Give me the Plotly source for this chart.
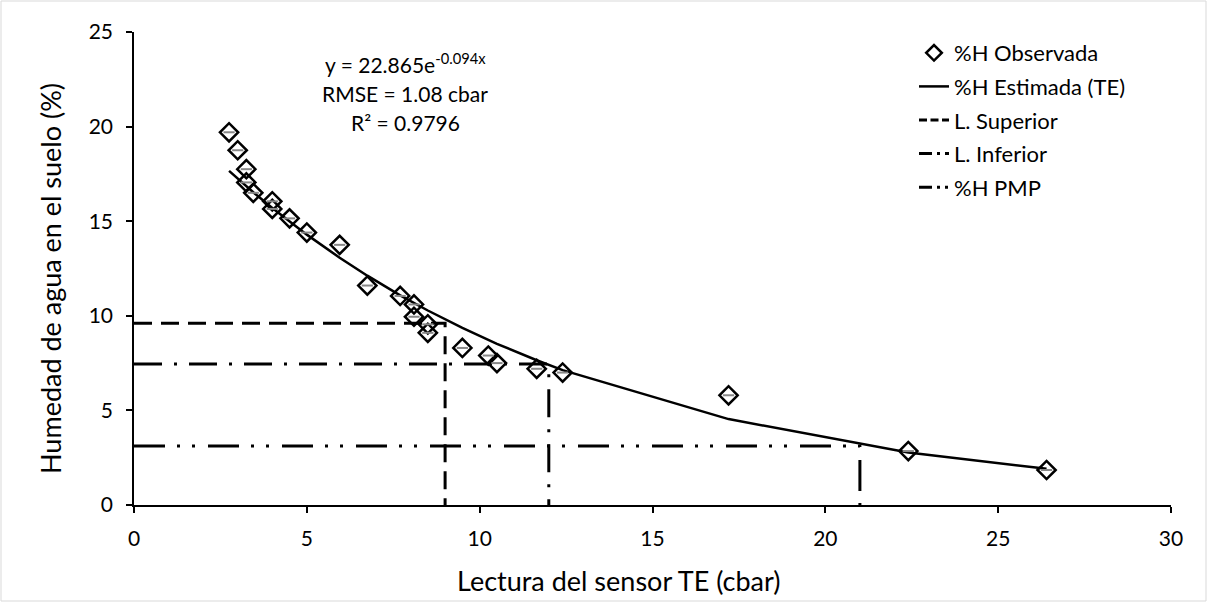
import plotly.graph_objects as go

# Observed data (sensor reading cbar, soil moisture %)
obs_x = [2.75, 3.0, 3.25, 3.25, 3.45, 4.0, 4.0, 4.5, 5.0, 5.95, 6.75, 7.7, 8.1, 8.1, 8.5, 8.5,
         9.5, 10.25, 10.5, 11.65, 12.4, 17.2, 22.4, 26.4]
obs_y = [19.7, 18.75, 17.75, 17.05, 16.5, 16.05, 15.65, 15.15, 14.4, 13.75, 11.6, 11.05, 10.6, 9.95,
         9.55, 9.1, 8.3, 7.9, 7.5, 7.2, 7.0, 5.8, 2.85, 1.85]

# Estimated (fitted) curve values read at the observed readings
est_x = [2.75, 3.0, 3.25, 3.45, 4.0, 4.5, 5.0, 5.95, 6.75, 7.7, 8.1, 8.5, 9.5, 10.25, 10.5,
         11.65, 12.4, 17.2, 22.4, 26.4]
est_y = [17.66, 17.25, 16.84, 16.53, 15.70, 14.98, 14.29, 13.07, 12.12, 11.08, 10.68, 10.28,
         9.36, 8.73, 8.52, 7.65, 7.13, 4.54, 2.78, 1.91]

# Reference limits
sup_x = [0, 9, 9]
sup_y = [9.6, 9.6, 0]
inf_x = [0, 12, 12]
inf_y = [7.45, 7.45, 0]
pmp_x = [0, 21, 21]
pmp_y = [3.12, 3.12, 0]

names = ["%H Observada", "%H Estimada (TE)", "L. Superior", "L. Inferior", "%H PMP"]
eq_lines = ["y = 22.865e<sup>-0.094x</sup>", "RMSE = 1.08 cbar", "R² = 0.9796"]
x_title = "Lectura del sensor TE (cbar)"
y_title = "Humedad de agua en el suelo (%)"

FONT = "Lato"
fig = go.Figure()

# plotted data (legend entries drawn by legend-only proxies below)
fig.add_trace(go.Scatter(x=est_x, y=est_y, mode="lines", showlegend=False,
                         line=dict(color="black", width=2.5)))
fig.add_trace(go.Scatter(x=sup_x, y=sup_y, mode="lines", showlegend=False,
                         line=dict(color="black", width=3, dash="18px,9px")))
fig.add_trace(go.Scatter(x=inf_x, y=inf_y, mode="lines", showlegend=False,
                         line=dict(color="black", width=3, dash="28px,12px,3px,12px")))
fig.add_trace(go.Scatter(x=pmp_x, y=pmp_y, mode="lines", showlegend=False,
                         line=dict(color="black", width=3, dash="31px,12px,3px,12px,3px,13px")))
fig.add_trace(go.Scatter(x=obs_x, y=obs_y, mode="markers", showlegend=False,
                         marker=dict(symbol="diamond-open", size=14, color="black",
                                     line=dict(color="black", width=2.5))))
fig.add_trace(go.Scatter(x=obs_x, y=obs_y, mode="markers", showlegend=False, hoverinfo="skip",
                         marker=dict(symbol="line-ew", size=8, color="#888888",
                                     line=dict(color="#888888", width=2))))

# legend proxies (short sample patterns)
legend_styles = [
    dict(mode="markers", marker=dict(symbol="diamond-open", size=12, color="black",
                                     line=dict(color="black", width=2.5))),
    dict(mode="lines", line=dict(color="black", width=2.5)),
    dict(mode="lines", line=dict(color="black", width=3, dash="8px,3.5px")),
    dict(mode="lines", line=dict(color="black", width=3, dash="13px,5px,3px,5px")),
    dict(mode="lines", line=dict(color="black", width=3, dash="13px,5px,3px,5px,3px,5px")),
]
for i, (nm, st) in enumerate(zip(names, legend_styles)):
    fig.add_trace(go.Scatter(x=[None], y=[None], name=nm, legendgroup=f"g{i}",
                             legendrank=i + 1, showlegend=True, **st))

W, H = 1037, 473
L, T = 134, 32

def px_x(p):
    return (p - L) / W

def px_y(p):
    return (T + H - p) / H

for i, txt in enumerate(eq_lines):
    fig.add_annotation(x=px_x(405), y=px_y(63 + 30 * i), xref="paper", yref="paper", text=txt,
                       showarrow=False, font=dict(family=FONT, size=21, color="black"),
                       xanchor="center", yanchor="middle")

fig.add_annotation(x=px_x(619), y=px_y(580), xref="paper", yref="paper", text=x_title,
                   showarrow=False, font=dict(family=FONT, size=27, color="black"),
                   xanchor="center", yanchor="middle")
fig.add_annotation(x=px_x(50), y=px_y(279), xref="paper", yref="paper", text=y_title,
                   showarrow=False, textangle=-90, font=dict(family=FONT, size=27, color="black"),
                   xanchor="center", yanchor="middle")

fig.add_shape(type="rect", xref="paper", yref="paper",
              x0=px_x(1), x1=px_x(1206), y0=px_y(601), y1=px_y(1),
              line=dict(color="#d9d9d9", width=1), fillcolor="rgba(0,0,0,0)", layer="below")

axis_common = dict(showgrid=False, zeroline=False, showline=True, linecolor="black", linewidth=1.5,
                   ticks="outside", ticklen=6, tickwidth=1.5, tickcolor="black",
                   tickfont=dict(family=FONT, size=21, color="black"))

fig.update_layout(
    width=1208, height=603,
    margin=dict(l=L, r=1208 - L - W, t=T, b=603 - T - H),
    paper_bgcolor="white", plot_bgcolor="white",
    font=dict(family=FONT, color="black"),
    xaxis=dict(range=[0, 30], dtick=5, ticklabelstandoff=8, **axis_common),
    yaxis=dict(range=[0, 25], dtick=5, ticklabelstandoff=9, **axis_common),
    legend=dict(x=px_x(914), y=px_y(32), xanchor="left", yanchor="top",
                font=dict(family=FONT, size=22, color="black"), tracegroupgap=2,
                bgcolor="rgba(0,0,0,0)"),
    showlegend=True,
)

fig.write_html("out.html")
